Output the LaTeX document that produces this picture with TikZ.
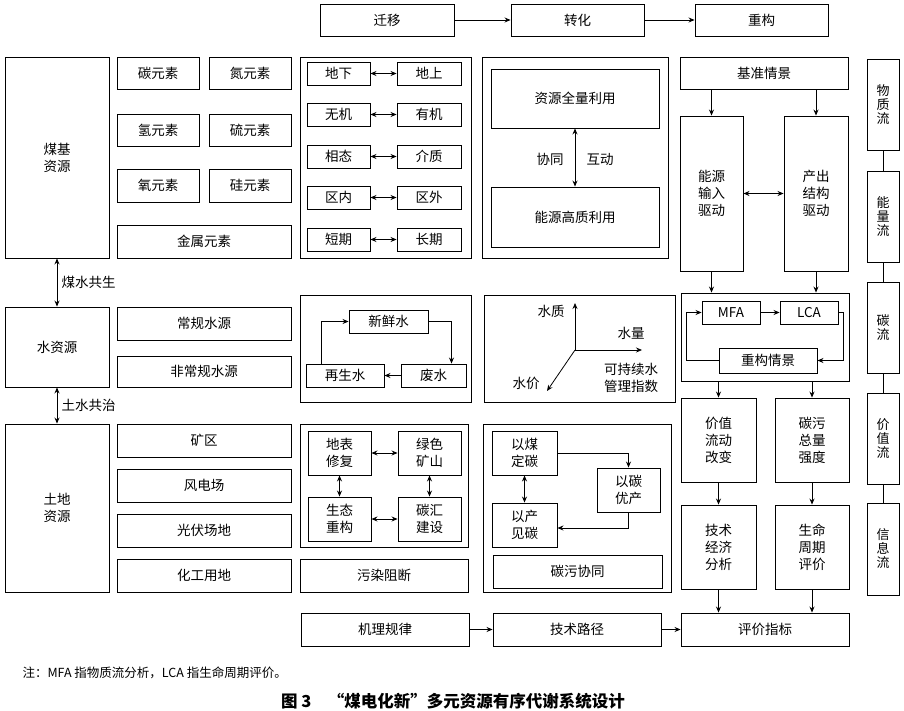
\documentclass[tikz,border=0pt]{standalone}
\usepackage{fontspec}
\setmainfont{Noto Sans CJK SC}
\usetikzlibrary{arrows.meta}

\begin{document}
\begin{tikzpicture}[
    x=1pt, y=-1pt,
    box/.style={
        draw,
        line width=0.9pt,
        inner sep=0pt,
        align=center,
        font=\fontsize{13.5}{17}\selectfont
    },
    flow/.style={
        box,
        minimum width=32,
        font=\fontsize{13}{14}\selectfont
    },
    panel/.style={
        draw,
        line width=0.9pt
    },
    tag/.style={
        align=center,
        font=\fontsize{13.5}{17}\selectfont
    },
    arrow/.style={
        -{Stealth[length=6pt,width=5pt]},
        line width=0.8pt
    },
    biarrow/.style={
        {Stealth[length=6pt,width=5pt]}-{Stealth[length=6pt,width=5pt]},
        line width=0.8pt
    }
]
\useasboundingbox (0,0) rectangle (904,711);

% Top row
\node (migrate)   [box, minimum width=134, minimum height=32] at (387,20)   {迁移};
\node (transform) [box, minimum width=133, minimum height=32] at (577.5,20) {转化};
\node (rebuild)   [box, minimum width=133, minimum height=32] at (761.5,20) {重构};
\draw[arrow] (migrate) -- (transform);
\draw[arrow] (transform) -- (rebuild);

% Resources
\node (coal)  [box, minimum width=104, minimum height=201] at (57,157.5) {煤基\\资源};
\node (water) [box, minimum width=104, minimum height=80]  at (57,347)   {水资源};
\node (land)  [box, minimum width=104, minimum height=168] at (57,508)   {土地\\资源};
\draw[biarrow] (coal) -- (water) node[tag, midway, right=1pt] {煤水共生};
\draw[biarrow] (water) -- (land) node[tag, midway, right=1pt] {土水共治};

% Elements
\node (carbon)   [box, minimum width=82, minimum height=32]  at (158,73)    {碳元素};
\node (nitrogen) [box, minimum width=82, minimum height=32]  at (250,73)    {氮元素};
\node (hydrogen) [box, minimum width=82, minimum height=32]  at (158,130)   {氢元素};
\node (sulfur)   [box, minimum width=82, minimum height=32]  at (250,130)   {硫元素};
\node (oxygen)   [box, minimum width=82, minimum height=33]  at (158,185.5) {氧元素};
\node (silicon)  [box, minimum width=82, minimum height=33]  at (250,185.5) {硅元素};
\node (metal)    [box, minimum width=174, minimum height=33] at (204,241.5) {金属元素};

\node (usual)   [box, minimum width=174, minimum height=33] at (204,323.5) {常规水源};
\node (unusual) [box, minimum width=174, minimum height=31] at (204,371.5) {非常规水源};

\node (mine)  [box, minimum width=174, minimum height=33] at (204,440.5) {矿区};
\node (wind)  [box, minimum width=174, minimum height=33] at (204,485.5) {风电场};
\node (solar) [box, minimum width=174, minimum height=33] at (204,530.5) {光伏场地};
\node (chem)  [box, minimum width=174, minimum height=33] at (204,575.5) {化工用地};

% Migration pairs
\draw[panel] (300,57) rectangle (471,258);
\node (under)   [box, minimum width=63, minimum height=23] at (338.5,73.5)  {地下};
\node (above)   [box, minimum width=64, minimum height=23] at (429,73.5)    {地上};
\node (inorg)   [box, minimum width=63, minimum height=23] at (338.5,114.5) {无机};
\node (org)     [box, minimum width=64, minimum height=23] at (429,114.5)   {有机};
\node (phase)   [box, minimum width=63, minimum height=23] at (338.5,156.5) {相态};
\node (medium)  [box, minimum width=64, minimum height=23] at (429,156.5)   {介质};
\node (inside)  [box, minimum width=63, minimum height=23] at (338.5,197.5) {区内};
\node (outside) [box, minimum width=64, minimum height=23] at (429,197.5)   {区外};
\node (short)   [box, minimum width=63, minimum height=23] at (338.5,239.5) {短期};
\node (long)    [box, minimum width=64, minimum height=23] at (429,239.5)   {长期};
\draw[biarrow] (under) -- (above);
\draw[biarrow] (inorg) -- (org);
\draw[biarrow] (phase) -- (medium);
\draw[biarrow] (inside) -- (outside);
\draw[biarrow] (short) -- (long);

% Utilisation
\draw[panel] (482,57) rectangle (668,258);
\node (fulluse) [box, minimum width=168, minimum height=59] at (575,98.5) {资源全量利用};
\node (hquse)   [box, minimum width=168, minimum height=60] at (575,217)  {能源高质利用};
\draw[biarrow] (fulluse) -- (hquse);
\node[tag] at (550,159) {协同};
\node[tag] at (600,159) {互动};

% Water cycle
\draw[panel] (300,295) rectangle (471,402);
\node (fresh)   [box, minimum width=79, minimum height=23] at (388.5,321.5) {新鲜水};
\node (reclaim) [box, minimum width=78, minimum height=23] at (345,375.5)   {再生水};
\node (waste)   [box, minimum width=65, minimum height=23] at (433.5,375.5) {废水};
\draw[arrow] (fresh.east) -| ([xshift=18pt]waste.north);
\draw[arrow] (waste) -- (reclaim);
\draw[arrow] ([xshift=-24pt]reclaim.north) |- (fresh.west);

% Water index
\draw[panel] (484,295) rectangle (675,402);
\coordinate (origin) at (575,350);
\coordinate (quality) at (575,303);
\coordinate (quantity) at (642,350);
\coordinate (price) at (547,391);
\draw[arrow] (origin) -- (quality);
\draw[arrow] (origin) -- (quantity);
\draw[arrow] (origin) -- (price);
\node[tag] at (551,311) {水质};
\node[tag] at (631,333) {水量};
\node[tag] at (526,383) {水价};
\node[tag] at (631,378) {可持续水\\管理指数};

% Ecology
\draw[panel] (300,424) rectangle (468,547);
\node (surface) [box, minimum width=63, minimum height=44] at (339.5,453) {地表\\修复};
\node (green)   [box, minimum width=63, minimum height=44] at (429.5,453) {绿色\\矿山};
\node (eco)     [box, minimum width=63, minimum height=44] at (339.5,519) {生态\\重构};
\node (sink)    [box, minimum width=63, minimum height=44] at (429.5,519) {碳汇\\建设};
\draw[biarrow] (surface) -- (green);
\draw[biarrow] (eco) -- (sink);
\draw[biarrow] (surface) -- (eco);
\draw[biarrow] (green) -- (sink);
\node (block) [box, minimum width=168, minimum height=33] at (384,575.5) {污染阻断};

% Carbon
\draw[panel] (483,424) rectangle (671,592);
\node (coalfix) [box, minimum width=65, minimum height=44] at (524.5,453) {以煤\\定碳};
\node (carbopt) [box, minimum width=63, minimum height=44] at (628.5,490) {以碳\\优产};
\node (prodsee) [box, minimum width=65, minimum height=44] at (524.5,525) {以产\\见碳};
\node (synergy) [box, minimum width=169, minimum height=33] at (577.5,571.5) {碳污协同};
\draw[arrow] (coalfix.east) -| (carbopt.north);
\draw[arrow] (carbopt.south) |- ([yshift=-3pt]prodsee.east);
\draw[biarrow] (coalfix) -- (prodsee);

% Reconstruction
\node (baseline) [box, minimum width=168, minimum height=32]  at (764,73)    {基准情景};
\node (energyin) [box, minimum width=63,  minimum height=155] at (711.5,193.5) {能源\\输入\\驱动};
\node (outputs)  [box, minimum width=64,  minimum height=155] at (816,193.5)   {产出\\结构\\驱动};
\draw[arrow] (baseline.south -| energyin) -- (energyin);
\draw[arrow] (baseline.south -| outputs) -- (outputs);
\draw[biarrow] (energyin) -- (outputs);

\node (mfabox) [panel, minimum width=168, minimum height=88] at (765,337) {};
\node (mfa) [box, minimum width=58, minimum height=23] at (731,312.5) {MFA};
\node (lca) [box, minimum width=58, minimum height=23] at (809,312.5) {LCA};
\node (scene) [box, minimum width=98, minimum height=25] at (768,360.5) {重构情景};
\draw[arrow] (mfa) -- (lca);
\draw[arrow] (lca.east) -- ++(5,0) |- (scene.east);
\draw[arrow] (scene.west) -| ([xshift=-15pt]mfa.west) -- (mfa.west);
\draw[arrow] (energyin) -- (energyin |- mfabox.north);
\draw[arrow] (outputs) -- (outputs |- mfabox.north);

\node (valueflow) [box, minimum width=75, minimum height=84] at (718.5,440) {价值\\流动\\改变};
\node (pollution) [box, minimum width=74, minimum height=84] at (812,440)   {碳污\\总量\\强度};
\node (techecon)  [box, minimum width=75, minimum height=84] at (718.5,547) {技术\\经济\\分析};
\node (lifecycle) [box, minimum width=74, minimum height=84] at (812,547)   {生命\\周期\\评价};
\draw[arrow] (mfabox.south -| valueflow) -- (valueflow);
\draw[arrow] (mfabox.south -| pollution) -- (pollution);
\draw[arrow] (valueflow) -- (techecon);
\draw[arrow] (pollution) -- (lifecycle);

% Bottom row
\node (mechanism) [box, minimum width=168, minimum height=33] at (385,629.5) {机理规律};
\node (techpath)  [box, minimum width=168, minimum height=33] at (577,629.5) {技术路径};
\node (index)     [box, minimum width=168, minimum height=33] at (765,629.5) {评价指标};
\draw[arrow] (mechanism) -- (techpath);
\draw[arrow] (techpath) -- (index);
\draw[arrow] (techecon) -- (techecon |- index.north);
\draw[arrow] (lifecycle) -- (lifecycle |- index.north);

% Flows
\node (matter) [flow, minimum height=91] at (883,104.5) {物\\质\\流};
\node (energy) [flow, minimum height=91] at (883,216.5) {能\\量\\流};
\node (cflow)  [flow, minimum height=91] at (883,327.5) {碳\\流};
\node (vflow)  [flow, minimum height=91] at (883,438.5) {价\\值\\流};
\node (info)   [flow, minimum height=92] at (883,549)   {信\\息\\流};
\draw[line width=0.8pt] (matter) -- (energy);
\draw[line width=0.8pt] (energy) -- (cflow);
\draw[line width=0.8pt] (cflow) -- (vflow);
\draw[line width=0.8pt] (vflow) -- (info);

% Note and caption
\node (note) [anchor=west, font=\fontsize{12.5}{15}\selectfont] at (19,673)
    {注：MFA 指物质流分析，LCA 指生命周期评价。};
\node (caption) [font=\bfseries\fontsize{16.5}{20}\selectfont] at (453,701)
    {图 3\quad “煤电化新”多元资源有序代谢系统设计};

\end{tikzpicture}
\end{document}
